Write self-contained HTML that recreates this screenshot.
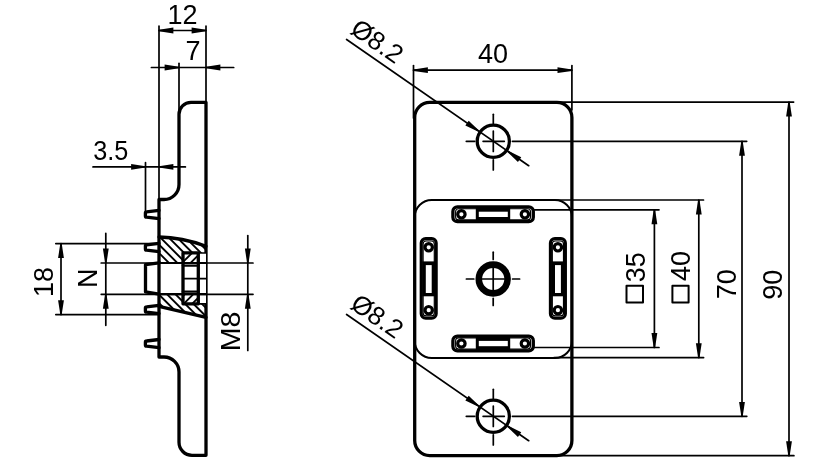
<!DOCTYPE html>
<html><head><meta charset="utf-8"><style>
html,body{margin:0;padding:0;background:#fff;width:827px;height:474px;overflow:hidden}
svg{display:block;will-change:transform}
svg *{stroke:#000;fill:none;stroke-linecap:round;stroke-linejoin:round}
svg .f{fill:#000;stroke:none}
svg .w{fill:#fff;stroke:none}
svg text{fill:#000;stroke:none;font-family:"Liberation Sans",sans-serif}
</style></head><body>
<svg width="827" height="474" viewBox="0 0 827 474">
<rect x="0" y="0" width="827" height="474" class="w"/>
<path d="M206.0,455 L206.0,102.3 L191,102.3 A12,12 0 0 0 179.0,114.3 L179.0,184.5 A15,15 0 0 1 164,199.5 L159.0,199.5 L159.0,357 L164,357 A15,15 0 0 1 179.0,372 L179.0,442.3 A13,13 0 0 0 192,455.3 L206.0,455.3 Z" stroke-width="3.3" />
<path d="M159.0,210.4 L146.6,211.9 Q145.4,211.9 145.4,213.1 L145.4,215.9 Q145.4,217.1 146.6,217.1 L159.0,218.6" stroke-width="3.3" stroke-linejoin="round"/>
<path d="M159.0,243.4 L146.6,244.9 Q145.4,244.9 145.4,246.1 L145.4,248.9 Q145.4,250.1 146.6,250.1 L159.0,251.6" stroke-width="3.3" stroke-linejoin="round"/>
<path d="M159.0,305.4 L146.6,306.9 Q145.4,306.9 145.4,308.1 L145.4,310.9 Q145.4,312.1 146.6,312.1 L159.0,313.6" stroke-width="3.3" stroke-linejoin="round"/>
<path d="M159.0,339.5 L146.6,341.0 Q145.4,341.0 145.4,342.20000000000005 L145.4,345.0 Q145.4,346.20000000000005 146.6,346.20000000000005 L159.0,347.70000000000005" stroke-width="3.3" stroke-linejoin="round"/>
<path d="M159.0,262.8 L145.5,264.6 L145.5,291.9 L159.0,294.2" stroke-width="3.3" />
<defs><clipPath id="cu"><path d="M159.0,237.0 Q182,237.2 206.0,246.3 L206.0,263.0 L198.3,263 L198.3,253 L183,253 L183,263 L159.0,263.0 Z"/></clipPath><clipPath id="cl"><path d="M159.0,294.2 L183,294.2 L183,303.8 L198.3,303.8 L198.3,294.2 L206.0,294.2 L206.0,317.4 L159.0,306.4 Z"/></clipPath><clipPath id="cn"><path d="M183,253 L198.3,253 L198.3,263 L183,263 Z M183,294.2 L198.3,294.2 L198.3,303.8 L183,303.8 Z"/></clipPath></defs>
<g clip-path="url(#cu)">
<line x1="150.00" y1="269.20" x2="215.00" y2="334.20" stroke-width="1.9"/>
<line x1="150.00" y1="260.80" x2="215.00" y2="325.80" stroke-width="1.9"/>
<line x1="150.00" y1="252.40" x2="215.00" y2="317.40" stroke-width="1.9"/>
<line x1="150.00" y1="244.00" x2="215.00" y2="309.00" stroke-width="1.9"/>
<line x1="150.00" y1="235.60" x2="215.00" y2="300.60" stroke-width="1.9"/>
<line x1="150.00" y1="227.20" x2="215.00" y2="292.20" stroke-width="1.9"/>
<line x1="150.00" y1="218.80" x2="215.00" y2="283.80" stroke-width="1.9"/>
<line x1="150.00" y1="210.40" x2="215.00" y2="275.40" stroke-width="1.9"/>
<line x1="150.00" y1="202.00" x2="215.00" y2="267.00" stroke-width="1.9"/>
<line x1="150.00" y1="193.60" x2="215.00" y2="258.60" stroke-width="1.9"/>
<line x1="150.00" y1="185.20" x2="215.00" y2="250.20" stroke-width="1.9"/>
<line x1="150.00" y1="176.80" x2="215.00" y2="241.80" stroke-width="1.9"/>
<line x1="150.00" y1="168.40" x2="215.00" y2="233.40" stroke-width="1.9"/>
<line x1="150.00" y1="160.00" x2="215.00" y2="225.00" stroke-width="1.9"/>
<line x1="150.00" y1="151.60" x2="215.00" y2="216.60" stroke-width="1.9"/>
</g>
<g clip-path="url(#cl)">
<line x1="150.00" y1="394.80" x2="215.00" y2="459.80" stroke-width="1.9"/>
<line x1="150.00" y1="386.40" x2="215.00" y2="451.40" stroke-width="1.9"/>
<line x1="150.00" y1="378.00" x2="215.00" y2="443.00" stroke-width="1.9"/>
<line x1="150.00" y1="369.60" x2="215.00" y2="434.60" stroke-width="1.9"/>
<line x1="150.00" y1="361.20" x2="215.00" y2="426.20" stroke-width="1.9"/>
<line x1="150.00" y1="352.80" x2="215.00" y2="417.80" stroke-width="1.9"/>
<line x1="150.00" y1="344.40" x2="215.00" y2="409.40" stroke-width="1.9"/>
<line x1="150.00" y1="336.00" x2="215.00" y2="401.00" stroke-width="1.9"/>
<line x1="150.00" y1="327.60" x2="215.00" y2="392.60" stroke-width="1.9"/>
<line x1="150.00" y1="319.20" x2="215.00" y2="384.20" stroke-width="1.9"/>
<line x1="150.00" y1="310.80" x2="215.00" y2="375.80" stroke-width="1.9"/>
<line x1="150.00" y1="302.40" x2="215.00" y2="367.40" stroke-width="1.9"/>
<line x1="150.00" y1="294.00" x2="215.00" y2="359.00" stroke-width="1.9"/>
<line x1="150.00" y1="285.60" x2="215.00" y2="350.60" stroke-width="1.9"/>
<line x1="150.00" y1="277.20" x2="215.00" y2="342.20" stroke-width="1.9"/>
<line x1="150.00" y1="268.80" x2="215.00" y2="333.80" stroke-width="1.9"/>
<line x1="150.00" y1="260.40" x2="215.00" y2="325.40" stroke-width="1.9"/>
<line x1="150.00" y1="252.00" x2="215.00" y2="317.00" stroke-width="1.9"/>
<line x1="150.00" y1="243.60" x2="215.00" y2="308.60" stroke-width="1.9"/>
<line x1="150.00" y1="235.20" x2="215.00" y2="300.20" stroke-width="1.9"/>
<line x1="150.00" y1="226.80" x2="215.00" y2="291.80" stroke-width="1.9"/>
<line x1="150.00" y1="218.40" x2="215.00" y2="283.40" stroke-width="1.9"/>
<line x1="150.00" y1="210.00" x2="215.00" y2="275.00" stroke-width="1.9"/>
<line x1="150.00" y1="201.60" x2="215.00" y2="266.60" stroke-width="1.9"/>
</g>
<g clip-path="url(#cn)">
<line x1="150.00" y1="193.00" x2="215.00" y2="128.00" stroke-width="1.9"/>
<line x1="150.00" y1="201.50" x2="215.00" y2="136.50" stroke-width="1.9"/>
<line x1="150.00" y1="210.00" x2="215.00" y2="145.00" stroke-width="1.9"/>
<line x1="150.00" y1="218.50" x2="215.00" y2="153.50" stroke-width="1.9"/>
<line x1="150.00" y1="227.00" x2="215.00" y2="162.00" stroke-width="1.9"/>
<line x1="150.00" y1="235.50" x2="215.00" y2="170.50" stroke-width="1.9"/>
<line x1="150.00" y1="244.00" x2="215.00" y2="179.00" stroke-width="1.9"/>
<line x1="150.00" y1="252.50" x2="215.00" y2="187.50" stroke-width="1.9"/>
<line x1="150.00" y1="261.00" x2="215.00" y2="196.00" stroke-width="1.9"/>
<line x1="150.00" y1="269.50" x2="215.00" y2="204.50" stroke-width="1.9"/>
<line x1="150.00" y1="278.00" x2="215.00" y2="213.00" stroke-width="1.9"/>
<line x1="150.00" y1="286.50" x2="215.00" y2="221.50" stroke-width="1.9"/>
<line x1="150.00" y1="295.00" x2="215.00" y2="230.00" stroke-width="1.9"/>
<line x1="150.00" y1="303.50" x2="215.00" y2="238.50" stroke-width="1.9"/>
<line x1="150.00" y1="312.00" x2="215.00" y2="247.00" stroke-width="1.9"/>
<line x1="150.00" y1="320.50" x2="215.00" y2="255.50" stroke-width="1.9"/>
<line x1="150.00" y1="329.00" x2="215.00" y2="264.00" stroke-width="1.9"/>
<line x1="150.00" y1="337.50" x2="215.00" y2="272.50" stroke-width="1.9"/>
<line x1="150.00" y1="346.00" x2="215.00" y2="281.00" stroke-width="1.9"/>
<line x1="150.00" y1="354.50" x2="215.00" y2="289.50" stroke-width="1.9"/>
<line x1="150.00" y1="363.00" x2="215.00" y2="298.00" stroke-width="1.9"/>
<line x1="150.00" y1="371.50" x2="215.00" y2="306.50" stroke-width="1.9"/>
<line x1="150.00" y1="380.00" x2="215.00" y2="315.00" stroke-width="1.9"/>
<line x1="150.00" y1="388.50" x2="215.00" y2="323.50" stroke-width="1.9"/>
</g>
<rect x="199.5" y="253" width="6.5" height="50" class="w"/>
<path d="M159.0,237.0 Q182,237.2 206.0,246.3" stroke-width="3.3" />
<path d="M159.0,306.4 L206.0,317.4" stroke-width="3.3" />
<path d="M183,252.8 L183,303.8 L198.3,303.8 L198.3,252.8 Z" stroke-width="3.3" />
<line x1="198.30" y1="253.00" x2="206.00" y2="253.00" stroke-width="1.7"/>
<line x1="198.30" y1="303.80" x2="206.00" y2="303.80" stroke-width="1.7"/>
<line x1="183.00" y1="278.70" x2="206.00" y2="278.70" stroke-width="1.7"/>
<line x1="183.00" y1="265.60" x2="198.30" y2="265.60" stroke-width="2.4"/>
<line x1="183.00" y1="291.60" x2="198.30" y2="291.60" stroke-width="2.4"/>
<path d="M159.0,263.0 L206.0,263.0" stroke-width="2.2" />
<path d="M159.0,294.2 L206.0,294.2" stroke-width="2.2" />
<line x1="159.00" y1="26.00" x2="159.00" y2="199.50" stroke-width="1.7"/>
<line x1="206.00" y1="26.00" x2="206.00" y2="102.30" stroke-width="1.7"/>
<line x1="159.00" y1="30.50" x2="206.00" y2="30.50" stroke-width="1.7"/>
<polygon class="f" points="159.00,29.80 173.40,27.60 173.40,33.40 159.00,31.20"/>
<polygon class="f" points="206.00,31.20 191.60,33.40 191.60,27.60 206.00,29.80"/>
<text x="182.60" y="24.00" font-size="27" text-anchor="middle">12</text>
<line x1="179.00" y1="63.30" x2="179.00" y2="112.00" stroke-width="1.7"/>
<line x1="151.40" y1="67.50" x2="233.70" y2="67.50" stroke-width="1.7"/>
<polygon class="f" points="179.00,68.20 164.60,70.40 164.60,64.60 179.00,66.80"/>
<polygon class="f" points="206.00,66.80 220.40,64.60 220.40,70.40 206.00,68.20"/>
<text x="193.00" y="60.00" font-size="27" text-anchor="middle">7</text>
<line x1="93.00" y1="166.90" x2="185.40" y2="166.90" stroke-width="1.7"/>
<line x1="145.50" y1="162.70" x2="145.50" y2="211.00" stroke-width="1.7"/>
<polygon class="f" points="145.50,167.60 131.10,169.80 131.10,164.00 145.50,166.20"/>
<polygon class="f" points="159.00,166.20 173.40,164.00 173.40,169.80 159.00,167.60"/>
<text x="93.20" y="159.50" font-size="27" text-anchor="start" textLength="35.1" lengthAdjust="spacingAndGlyphs">3.5</text>
<line x1="55.80" y1="243.60" x2="159.00" y2="243.60" stroke-width="1.7"/>
<line x1="55.80" y1="314.60" x2="159.00" y2="314.60" stroke-width="1.7"/>
<line x1="61.00" y1="243.60" x2="61.00" y2="314.60" stroke-width="1.7"/>
<polygon class="f" points="61.70,243.60 63.90,258.00 58.10,258.00 60.30,243.60"/>
<polygon class="f" points="60.30,314.60 58.10,300.20 63.90,300.20 61.70,314.60"/>
<text x="53.20" y="282.00" font-size="27" text-anchor="middle" transform="rotate(-90 53.20 282.00)">18</text>
<line x1="101.20" y1="263.00" x2="253.00" y2="263.00" stroke-width="1.7"/>
<line x1="101.20" y1="294.30" x2="253.00" y2="294.30" stroke-width="1.7"/>
<line x1="105.80" y1="233.40" x2="105.80" y2="325.30" stroke-width="1.7"/>
<polygon class="f" points="105.10,263.00 102.90,248.60 108.70,248.60 106.50,263.00"/>
<polygon class="f" points="106.50,294.30 108.70,308.70 102.90,308.70 105.10,294.30"/>
<text x="97.00" y="278.20" font-size="27" text-anchor="middle" transform="rotate(-90 97.00 278.20)">N</text>
<line x1="247.80" y1="235.50" x2="247.80" y2="350.50" stroke-width="1.7"/>
<polygon class="f" points="247.10,263.00 244.90,248.60 250.70,248.60 248.50,263.00"/>
<polygon class="f" points="248.50,294.30 250.70,308.70 244.90,308.70 247.10,294.30"/>
<text x="240.30" y="331.40" font-size="27" text-anchor="middle" transform="rotate(-90 240.30 331.40)" textLength="39.7" lengthAdjust="spacingAndGlyphs">M8</text>
<rect x="414.7" y="102.4" width="157.2" height="353.20000000000005" rx="15" ry="15" stroke-width="3.3"/>
<rect x="414.7" y="200" width="157.2" height="158" rx="17" ry="17" stroke-width="2.0"/>
<line x1="413.50" y1="65.60" x2="413.50" y2="118.00" stroke-width="1.7"/>
<line x1="571.90" y1="65.60" x2="571.90" y2="110.00" stroke-width="1.7"/>
<line x1="413.50" y1="70.20" x2="571.90" y2="70.20" stroke-width="1.7"/>
<polygon class="f" points="413.50,69.50 427.90,67.30 427.90,73.10 413.50,70.90"/>
<polygon class="f" points="571.90,70.90 557.50,73.10 557.50,67.30 571.90,69.50"/>
<text x="493.00" y="62.60" font-size="27" text-anchor="middle">40</text>
<line x1="556.00" y1="102.10" x2="793.60" y2="102.10" stroke-width="1.7"/>
<line x1="556.00" y1="455.70" x2="793.90" y2="455.70" stroke-width="1.7"/>
<line x1="512.40" y1="141.30" x2="746.70" y2="141.30" stroke-width="1.7"/>
<line x1="512.40" y1="416.30" x2="746.80" y2="416.30" stroke-width="1.7"/>
<line x1="555.00" y1="200.00" x2="703.50" y2="200.00" stroke-width="1.7"/>
<line x1="554.00" y1="357.60" x2="703.60" y2="357.60" stroke-width="1.7"/>
<line x1="534.50" y1="209.80" x2="659.00" y2="209.80" stroke-width="1.7"/>
<line x1="534.50" y1="347.50" x2="659.00" y2="347.50" stroke-width="1.7"/>
<line x1="789.00" y1="102.10" x2="789.00" y2="455.70" stroke-width="1.7"/>
<polygon class="f" points="789.70,102.10 791.90,116.50 786.10,116.50 788.30,102.10"/>
<polygon class="f" points="788.30,455.70 786.10,441.30 791.90,441.30 789.70,455.70"/>
<line x1="742.00" y1="141.30" x2="742.00" y2="416.30" stroke-width="1.7"/>
<polygon class="f" points="742.70,141.30 744.90,155.70 739.10,155.70 741.30,141.30"/>
<polygon class="f" points="741.30,416.30 739.10,401.90 744.90,401.90 742.70,416.30"/>
<line x1="698.80" y1="200.00" x2="698.80" y2="357.60" stroke-width="1.7"/>
<polygon class="f" points="699.50,200.00 701.70,214.40 695.90,214.40 698.10,200.00"/>
<polygon class="f" points="698.10,357.60 695.90,343.20 701.70,343.20 699.50,357.60"/>
<line x1="654.40" y1="209.80" x2="654.40" y2="347.50" stroke-width="1.7"/>
<polygon class="f" points="655.10,209.80 657.30,224.20 651.50,224.20 653.70,209.80"/>
<polygon class="f" points="653.70,347.50 651.50,333.10 657.30,333.10 655.10,347.50"/>
<text x="782.00" y="284.80" font-size="27" text-anchor="middle" transform="rotate(-90 782.00 284.80)">90</text>
<text x="735.70" y="284.30" font-size="27" text-anchor="middle" transform="rotate(-90 735.70 284.30)">70</text>
<text x="690.00" y="266.00" font-size="27" text-anchor="middle" transform="rotate(-90 690.00 266.00)">40</text>
<rect x="672.4" y="285.8" width="16.2" height="16.6" stroke-width="2"/>
<text x="645.00" y="267.30" font-size="27" text-anchor="middle" transform="rotate(-90 645.00 267.30)">35</text>
<rect x="626.5" y="285.8" width="16.5" height="16.6" stroke-width="2"/>
<circle cx="493.3" cy="141.3" r="16.1" stroke-width="3.3"/>
<line x1="483.10" y1="141.30" x2="504.30" y2="141.30" stroke-width="1.7"/>
<line x1="493.30" y1="131.10" x2="493.30" y2="151.50" stroke-width="1.7"/>
<line x1="466.30" y1="141.30" x2="474.70" y2="141.30" stroke-width="1.7"/>
<line x1="493.30" y1="114.30" x2="493.30" y2="123.50" stroke-width="1.7"/>
<line x1="493.30" y1="159.80" x2="493.30" y2="170.00" stroke-width="1.7"/>
<line x1="346.60" y1="39.50" x2="528.70" y2="165.70" stroke-width="1.7"/>
<polygon class="f" points="478.44,131.85 465.35,125.46 468.65,120.69 479.23,130.70"/>
<polygon class="f" points="508.16,150.75 521.25,157.14 517.95,161.91 507.37,151.90"/>
<text x="349.00" y="32.50" font-size="26" text-anchor="start" transform="rotate(34.722958280606264 349.00 32.50)">Ø8.2</text>
<circle cx="493.3" cy="416.3" r="16.1" stroke-width="3.3"/>
<line x1="483.10" y1="416.30" x2="504.30" y2="416.30" stroke-width="1.7"/>
<line x1="493.30" y1="406.10" x2="493.30" y2="426.50" stroke-width="1.7"/>
<line x1="466.30" y1="416.30" x2="474.70" y2="416.30" stroke-width="1.7"/>
<line x1="493.30" y1="389.30" x2="493.30" y2="398.50" stroke-width="1.7"/>
<line x1="493.30" y1="434.80" x2="493.30" y2="445.00" stroke-width="1.7"/>
<line x1="346.60" y1="314.50" x2="528.70" y2="440.70" stroke-width="1.7"/>
<polygon class="f" points="478.44,406.85 465.35,400.46 468.65,395.69 479.23,405.70"/>
<polygon class="f" points="508.16,425.75 521.25,432.14 517.95,436.91 507.37,426.90"/>
<text x="349.00" y="307.50" font-size="26" text-anchor="start" transform="rotate(34.722958280606264 349.00 307.50)">Ø8.2</text>
<circle cx="493.2" cy="279.0" r="14.4" stroke-width="6.6"/>
<line x1="482.20" y1="279.00" x2="504.20" y2="279.00" stroke-width="1.7"/>
<line x1="493.20" y1="268.00" x2="493.20" y2="290.00" stroke-width="1.7"/>
<line x1="466.40" y1="279.00" x2="473.80" y2="279.00" stroke-width="1.7"/>
<line x1="512.60" y1="279.00" x2="519.60" y2="279.00" stroke-width="1.7"/>
<line x1="493.20" y1="252.20" x2="493.20" y2="259.40" stroke-width="1.7"/>
<line x1="493.20" y1="298.40" x2="493.20" y2="305.40" stroke-width="1.7"/>
<rect x="452.9" y="206.95000000000002" width="80.4" height="14.7" rx="4.5" stroke-width="3.3"/>
<rect x="455.6" y="208.70000000000002" width="74.9" height="11.2" rx="3" stroke-width="1.1"/>
<circle cx="461.4" cy="214.3" r="3.7" stroke-width="3.2"/>
<circle cx="524.9" cy="214.3" r="3.7" stroke-width="3.2"/>
<rect class="f" x="475.8" y="207.8" width="34.4" height="13"/>
<rect x="478.8" y="211.70000000000002" width="29" height="5.3" class="w"/>
<rect x="452.9" y="336.15" width="80.4" height="14.7" rx="4.5" stroke-width="3.3"/>
<rect x="455.6" y="337.9" width="74.9" height="11.2" rx="3" stroke-width="1.1"/>
<circle cx="461.4" cy="343.5" r="3.7" stroke-width="3.2"/>
<circle cx="524.9" cy="343.5" r="3.7" stroke-width="3.2"/>
<rect class="f" x="475.8" y="337.0" width="34.4" height="13"/>
<rect x="478.8" y="340.9" width="29" height="5.3" class="w"/>
<rect x="421.2" y="238.6" width="15.0" height="79.7" rx="4.5" stroke-width="3.1"/>
<rect x="423.09999999999997" y="241.0" width="11.2" height="74.9" rx="3" stroke-width="1.2"/>
<circle cx="428.7" cy="247.3" r="3.7" stroke-width="3.2"/>
<circle cx="428.7" cy="310.2" r="3.7" stroke-width="3.2"/>
<rect class="f" x="422.2" y="261.4" width="13" height="34.9"/>
<rect x="425.8" y="265.1" width="5.9" height="27.9" class="w"/>
<rect x="550.4" y="238.6" width="15.0" height="79.7" rx="4.5" stroke-width="3.1"/>
<rect x="552.3" y="241.0" width="11.2" height="74.9" rx="3" stroke-width="1.2"/>
<circle cx="557.9" cy="247.3" r="3.7" stroke-width="3.2"/>
<circle cx="557.9" cy="310.2" r="3.7" stroke-width="3.2"/>
<rect class="f" x="551.4" y="261.4" width="13" height="34.9"/>
<rect x="555.0" y="265.1" width="5.9" height="27.9" class="w"/>
</svg></body></html>
